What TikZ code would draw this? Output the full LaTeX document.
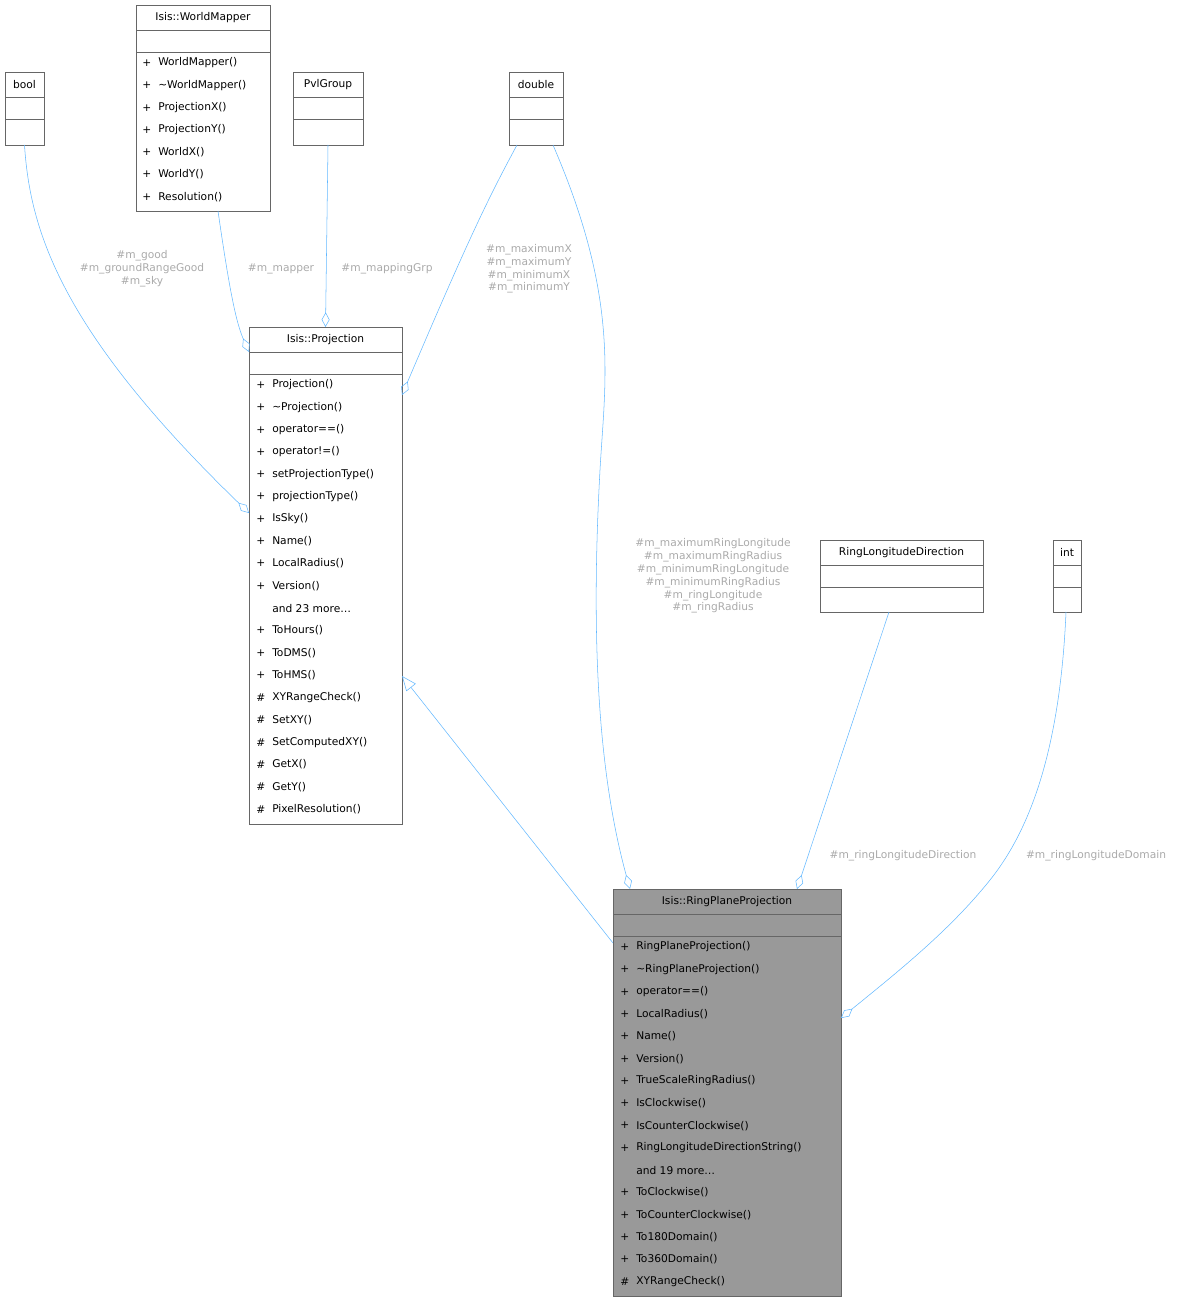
\documentclass[tikz,border=0pt]{standalone}
\usepackage{fontspec}
\setmainfont{DejaVu Sans}
\usetikzlibrary{arrows.meta}
\definecolor{edge}{HTML}{63B8FF}
\definecolor{lab}{HTML}{AAAAAA}
\definecolor{bord}{HTML}{666666}
\newcommand\umlbox[7]{%
 \node[box,fill=#6,minimum width={(#4-#2)*0.75pt},minimum height={(#5-#3)*0.75pt}] (#1) at ({(#2+#4)/2},{(#3+#5)/2}) {};
 \node[txt] at ({(#2+#4)/2},#3+12.5) {#7};
 \draw[bord] (#2,#3+25) -- (#4,#3+25);
 \draw[bord] (#2,#3+47) -- (#4,#3+47);}
\newcommand\methods[3]{%
 \foreach \m/\t [count=\i] in {#3} {
  \node[txt,anchor=west] at (#1,{#2+(\i-1)*22.33}) {\m};
  \node[txt,anchor=west] at (#1+16,{#2+(\i-1)*22.33}) {\t};}}
\begin{document}
\begin{tikzpicture}[x=0.75pt,y=-0.75pt,
 box/.style={draw=bord,inner sep=0pt,outer sep=0pt},
 txt/.style={font=\fontsize{8}{9.6}\selectfont,inner sep=0pt},
 lbl/.style={font=\fontsize{8}{9.6}\selectfont,text=lab,align=center,inner sep=0pt},
 agg/.style={draw=edge,-{Diamond[open,length=11pt,width=6pt]}},
 inh/.style={draw=edge,-{Triangle[open,length=11pt,width=9pt]}}]
\useasboundingbox (0,0) rectangle (1186,1302);
\umlbox{bool}{5}{72}{44}{145}{white}{bool}
\umlbox{wm}{136}{5}{270}{211}{white}{Isis::WorldMapper}
\methods{142}{63}{+/WorldMapper(),+/\textasciitilde WorldMapper(),+/ProjectionX(),+/ProjectionY(),+/WorldX(),+/WorldY(),+/Resolution()}
\umlbox{pvl}{293}{72}{363}{145}{white}{PvlGroup}
\umlbox{dbl}{509}{72}{563}{145}{white}{double}
\umlbox{proj}{249}{327}{402}{824}{white}{Isis::Projection}
\methods{256}{385}{+/Projection(),+/\textasciitilde Projection(),+/operator==(),+/operator!=(),+/setProjectionType(),+/projectionType(),+/IsSky(),+/Name(),+/LocalRadius(),+/Version(),{}/{and 23 more\ldots},+/ToHours(),+/ToDMS(),+/ToHMS(),\#/XYRangeCheck(),\#/SetXY(),\#/SetComputedXY(),\#/GetX(),\#/GetY(),\#/PixelResolution()}
\umlbox{rld}{820}{540}{983}{612}{white}{RingLongitudeDirection}
\umlbox{int}{1053}{540}{1081}{612}{white}{int}
\umlbox{rpp}{613}{889}{841}{1296}{black!40}{Isis::RingPlaneProjection}
\methods{620}{947}{+/RingPlaneProjection(),+/\textasciitilde RingPlaneProjection(),+/operator==(),+/LocalRadius(),+/Name(),+/Version(),+/TrueScaleRingRadius(),+/IsClockwise(),+/IsCounterClockwise(),+/RingLongitudeDirectionString(),{}/{and 19 more\ldots},+/ToClockwise(),+/ToCounterClockwise(),+/To180Domain(),+/To360Domain(),\#/XYRangeCheck()}
% edges
\draw[agg] (bool.south) .. controls (30,230) and (60,330) .. (249,513);
\node[lbl] at (142,269) {\#m\_good\\\#m\_groundRangeGood\\\#m\_sky};
\draw[agg] (218,211) .. controls (228,280) and (235,320) .. (249,352);
\node[lbl] at (281,269) {\#m\_mapper};
\draw[agg] (pvl.south) -- (proj.north);
\node[lbl] at (387,269) {\#m\_mappingGrp};
\draw[agg] (517,145) .. controls (490,195) and (470,235) .. (402,395);
\node[lbl] at (529,269) {\#m\_maximumX\\\#m\_maximumY\\\#m\_minimumX\\\#m\_minimumY};
\draw[agg] (553,145) .. controls (620,300) and (605,380) .. (600,470) .. controls (590,650) and (600,780) .. (630,889);
\node[lbl] at (713,576) {\#m\_maximumRingLongitude\\\#m\_maximumRingRadius\\\#m\_minimumRingLongitude\\\#m\_minimumRingRadius\\\#m\_ringLongitude\\\#m\_ringRadius};
\draw[agg] (889,612) -- (797,889);
\node[lbl] at (903,856) {\#m\_ringLongitudeDirection};
\draw[agg] (1066,612) .. controls (1060,750) and (1030,830) .. (990,880) .. controls (950,930) and (900,970) .. (841,1018);
\node[lbl] at (1096,856) {\#m\_ringLongitudeDomain};
\draw[inh] (613,943) -- (402,676);
\end{tikzpicture}
\end{document}
